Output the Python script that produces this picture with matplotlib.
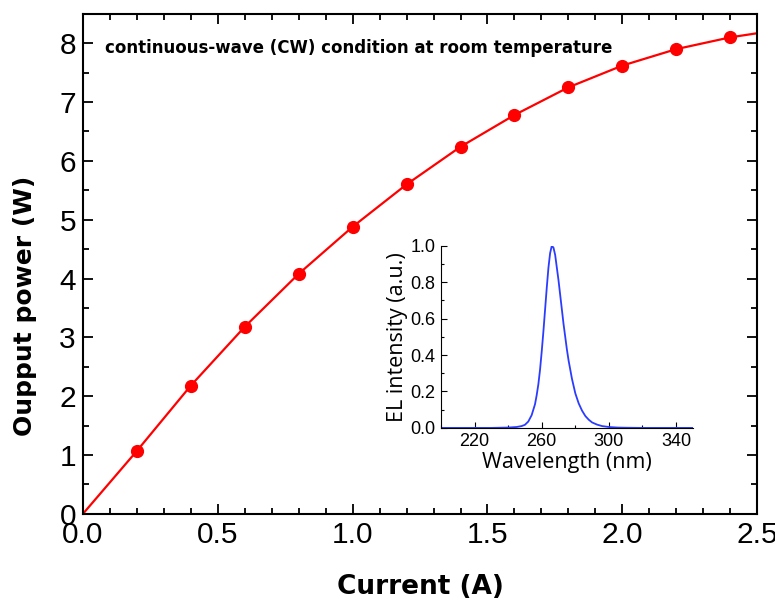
import matplotlib
matplotlib.use("Agg")
import matplotlib.pyplot as plt
from matplotlib.ticker import MultipleLocator

# 주 데이터: 전류 - 출력
current = [0.2, 0.4, 0.6, 0.8, 1.0, 1.2, 1.4, 1.6, 1.8, 2.0, 2.2, 2.4]
power = [1.07, 2.18, 3.18, 4.08, 4.88, 5.60, 6.24, 6.78, 7.25, 7.62, 7.90, 8.10]
# 선은 원점에서 시작해서 오른쪽 끝까지
line_current = [0.0] + current + [2.5]
line_power = [0.0] + power + [8.17]

# 인셋: EL 스펙트럼
wavelength = [200, 230, 240, 245, 248, 250, 252, 254, 256, 257, 258, 259, 260,
              261, 262, 263, 264, 265, 266, 267, 268, 269, 270, 271, 272, 273,
              274, 275, 276, 278, 280, 282, 284, 286, 288, 290, 293, 296, 300,
              305, 310, 320, 350]
intensity = [0.0, 0.0, 0.002, 0.005, 0.01, 0.017, 0.035, 0.07, 0.13, 0.18, 0.24,
             0.32, 0.42, 0.53, 0.65, 0.77, 0.88, 0.96, 1.0, 0.99, 0.95, 0.88,
             0.81, 0.73, 0.65, 0.57, 0.50, 0.43, 0.37, 0.27, 0.19, 0.135, 0.095,
             0.065, 0.045, 0.03, 0.018, 0.01, 0.005, 0.002, 0.001, 0.0, 0.0]
x_major = [0.0, 0.5, 1.0, 1.5, 2.0, 2.5]
inset_xticks = [220, 260, 300, 340]

fig = plt.figure(figsize=(7.75, 6.01), dpi=100)
ax = fig.add_axes([0.107, 0.145, 0.870, 0.832])

ax.plot(line_current, line_power, color="red", lw=1.6, zorder=2)
ax.plot(current, power, "o", color="red", ms=8.5, zorder=3)

ax.set_xlim(0, 2.5)
ax.set_ylim(0, 8.5)
ax.set_xticks(x_major)
ax.xaxis.set_minor_locator(MultipleLocator(0.1))
ax.yaxis.set_major_locator(MultipleLocator(1))
ax.yaxis.set_minor_locator(MultipleLocator(0.5))
ax.tick_params(which="both", direction="in", top=True, right=True, width=1.3)
ax.tick_params(which="major", length=7, labelsize=21.5, pad=5)
ax.tick_params(which="minor", length=4)
for lab in ax.get_xticklabels() + ax.get_yticklabels():
    lab.set_fontfamily("Liberation Sans")
for s in ax.spines.values():
    s.set_linewidth(1.5)

ax.set_xlabel("Current (A)", fontsize=19, fontweight="bold", family="DejaVu Sans", labelpad=18)
ax.set_ylabel("Oupput power (W)", fontsize=18, fontweight="bold", family="DejaVu Sans")
ax.yaxis.set_label_coords(-0.068, 0.415)

ax.text(0.08, 7.92, "continuous-wave (CW) condition at room temperature",
        fontsize=12.0, fontweight="bold", family="DejaVu Sans", va="center")

# 인셋
ins = fig.add_axes([0.569, 0.288, 0.325, 0.303])
ins.plot(wavelength, intensity, color="#2b3cff", lw=1.3)
ins.set_xlim(200, 350)
ins.set_ylim(0, 1.0)
ins.set_xticks(inset_xticks)
ins.xaxis.set_minor_locator(MultipleLocator(20))
ins.yaxis.set_major_locator(MultipleLocator(0.2))
ins.yaxis.set_minor_locator(MultipleLocator(0.1))
ins.spines["top"].set_visible(False)
ins.spines["right"].set_visible(False)
ins.tick_params(which="both", direction="in", width=0.8)
ins.tick_params(which="major", length=4, labelsize=13, pad=4)
ins.tick_params(which="minor", length=2.5)
for lab in ins.get_xticklabels() + ins.get_yticklabels():
    lab.set_fontfamily("Liberation Sans")
ins.set_xlabel("Wavelength (nm)", fontsize=15.5, family="Open Sans", labelpad=1)
ins.set_ylabel("EL intensity (a.u.)", fontsize=15.5, family="Open Sans", labelpad=2)
ins.patch.set_alpha(0)

fig.savefig("out.png", dpi=100)
